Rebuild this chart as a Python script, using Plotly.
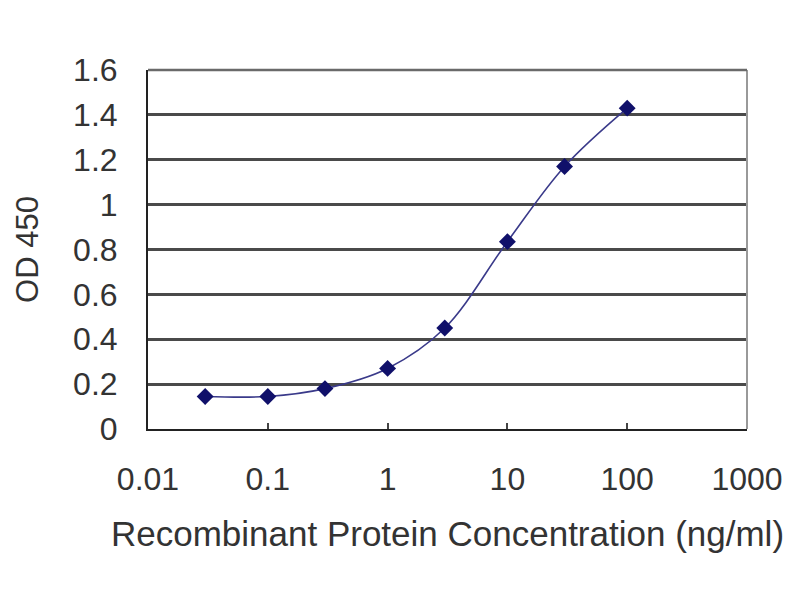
import plotly.graph_objects as go

concentration = [0.03, 0.1, 0.3, 1, 3, 10, 30, 100]
od450 = [0.145, 0.145, 0.18, 0.27, 0.45, 0.835, 1.17, 1.43]

x_tickvals = [0.01, 0.1, 1, 10, 100, 1000]
x_ticktext = ["0.01", "0.1", "1", "10", "100", "1000"]
y_tickvals = [0, 0.2, 0.4, 0.6, 0.8, 1.0, 1.2, 1.4, 1.6]
y_ticktext = ["0", "0.2", "0.4", "0.6", "0.8", "1", "1.2", "1.4", "1.6"]

FONT = "Liberation Sans, Arial, sans-serif"
TXT = "#333333"

fig = go.Figure()
fig.add_trace(go.Scatter(
    x=concentration, y=od450,
    mode="lines+markers",
    line=dict(color="#3a3a8a", width=1.6, shape="spline", smoothing=1.0),
    marker=dict(symbol="diamond", size=13, color="#10106a"),
    showlegend=False,
))

fig.update_layout(
    width=800, height=600,
    margin=dict(l=140, r=61, t=62, b=179, autoexpand=False),
    paper_bgcolor="white", plot_bgcolor="white",
    font=dict(family=FONT, color=TXT, size=31),
    xaxis=dict(
        type="log", range=[-2, 3], automargin=False,
        tickvals=x_tickvals, ticktext=x_ticktext,
        showgrid=False, zeroline=False,
        showline=True, linecolor="#222222", linewidth=2,
        ticks="inside", ticklen=6, tickwidth=2, tickcolor="#444444",
        ticklabelstandoff=21,
        tickfont=dict(size=32, family=FONT, color=TXT),
        title=dict(text="Recombinant Protein Concentration (ng/ml)",
                   font=dict(size=35, family=FONT, color=TXT), standoff=25),
    ),
    yaxis=dict(
        range=[0, 1.6], automargin=False,
        tickvals=y_tickvals, ticktext=y_ticktext,
        showgrid=True, gridcolor="#4a4a4a", gridwidth=2.5,
        zeroline=False,
        showline=True, linecolor="#222222", linewidth=2,
        ticks="", ticklabelstandoff=22,
        tickfont=dict(size=32, family=FONT, color=TXT),
        title=dict(text="OD 450", font=dict(size=31, family=FONT, color=TXT), standoff=25),
    ),
    shapes=[
        dict(type="line", xref="paper", yref="paper", x0=1, x1=1, y0=0, y1=1,
             line=dict(color="#999999", width=2)),
        dict(type="line", xref="paper", yref="paper", x0=0, x1=1, y0=1, y1=1,
             line=dict(color="#6a6a6a", width=2.5)),
    ],
)

fig.write_html("out.html")
